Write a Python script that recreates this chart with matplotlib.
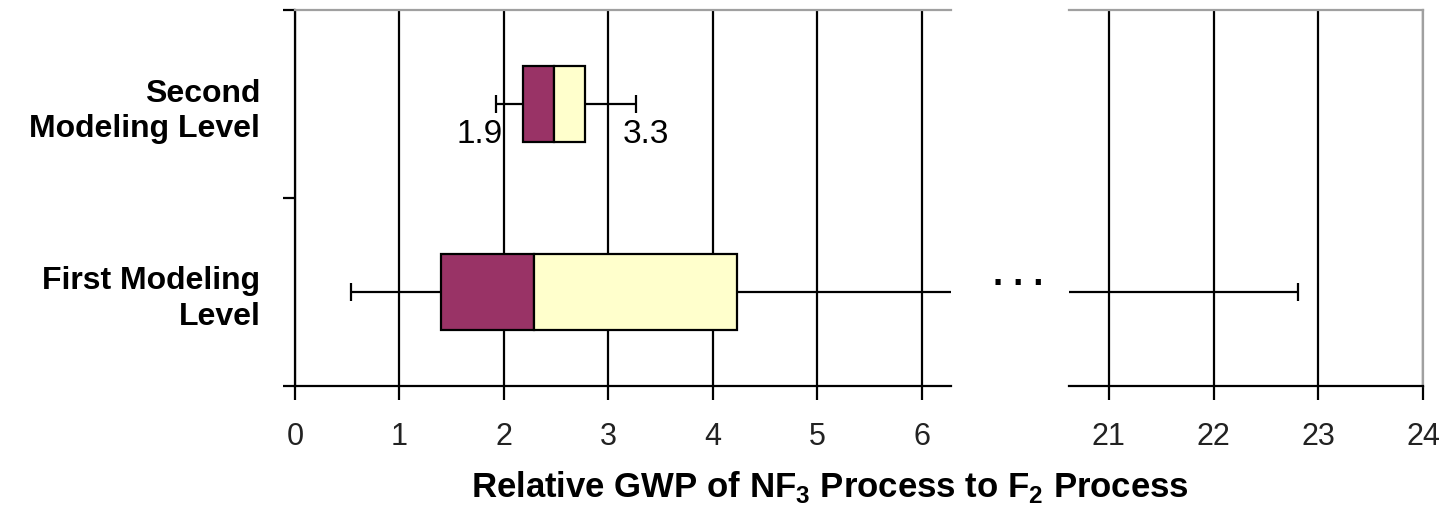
import matplotlib.pyplot as plt

# Data
levels = ['First Modeling\nLevel', 'Second\nModeling Level']
level_pos = [0.5, 1.5]
whisker_low = [0.54, 1.92]
q1 = [1.40, 2.18]
median = [2.29, 2.48]
q3 = [4.23, 2.78]
whisker_high = [22.81, 3.26]
left_ticks = [0, 1, 2, 3, 4, 5, 6]
right_ticks = [21, 22, 23, 24]

plt.rcParams['font.family'] = ['Liberation Sans', 'DejaVu Sans']
plt.rcParams['mathtext.fontset'] = 'custom'
plt.rcParams['mathtext.rm'] = 'Liberation Sans:bold'
plt.rcParams['mathtext.bf'] = 'Liberation Sans:bold'

fig = plt.figure(figsize=(14.39, 5.06), dpi=100)
ax1 = fig.add_axes([295 / 1439, 119 / 506, 656 / 1439, 376 / 506])
ax2 = fig.add_axes([1069 / 1439, 119 / 506, 354 / 1439, 376 / 506])

maroon = '#993366'
cream = '#ffffcc'

for ax in (ax1, ax2):
    for xg in (left_ticks if ax is ax1 else right_ticks):
        ax.axvline(xg, color='black', lw=1.6, zorder=1)
    ax.hlines(level_pos, whisker_low, q1, color='black', lw=1.6, zorder=2)
    ax.hlines(level_pos, q3, whisker_high, color='black', lw=1.6, zorder=2)
    for x0, y0 in zip(whisker_low + whisker_high, level_pos + level_pos):
        ax.vlines(x0, y0 - 0.05, y0 + 0.05, color='black', lw=1.6, zorder=2)
    ax.barh(level_pos, [m - a for m, a in zip(median, q1)], left=q1, height=0.4,
            color=maroon, edgecolor='black', lw=1.6, zorder=3)
    ax.barh(level_pos, [b - m for m, b in zip(median, q3)], left=median, height=0.4,
            color=cream, edgecolor='black', lw=1.6, zorder=3)
    ax.set_ylim(0, 2)
    ax.spines['bottom'].set_linewidth(1.6)
    ax.spines['top'].set_color('#a0a0a0')
    ax.spines['top'].set_linewidth(1.6)
    ax.tick_params(axis='x', length=10, width=1.6, labelsize=22, pad=15,
                   labelcolor='#222222')

ax1.set_xlim(0, 6.28)
ax1.set_xticks(left_ticks)
ax1.spines['right'].set_visible(False)
ax1.spines['left'].set_linewidth(1.6)
ax1.set_yticks([0, 1, 2])
ax1.set_yticklabels([])
ax1.tick_params(axis='y', length=9, width=1.6)
ax1.set_yticks(level_pos, levels, minor=True)
ax1.tick_params(axis='y', which='minor', length=0, pad=25)
for lab in ax1.get_yticklabels(minor=True):
    lab.set_fontsize(23)
    lab.set_fontweight('bold')
    lab.set_horizontalalignment('right')
    lab.set_multialignment('right')
    lab.set_linespacing(1.25)

ax2.set_xlim(20.62, 24)
ax2.set_xticks(right_ticks)
ax2.spines['left'].set_visible(False)
ax2.spines['right'].set_color('#a0a0a0')
ax2.spines['right'].set_linewidth(1.6)
ax2.set_yticks([])

ax1.text(whisker_low[1] + 0.07, 1.30, '1.9', ha='right', va='baseline', fontsize=24)
ax1.text(whisker_high[1] - 0.12, 1.30, '3.3', ha='left', va='baseline', fontsize=24)

fig.text(1018 / 1439, 0.455, '. . .', ha='center', va='center', fontsize=26, fontweight='bold')

fig.text(830 / 1439, 9 / 506, r'Relative GWP of NF$_{3}$ Process to F$_{2}$ Process',
         ha='center', va='baseline', fontsize=25, fontweight='bold')

fig.savefig('out.png', dpi=100)
